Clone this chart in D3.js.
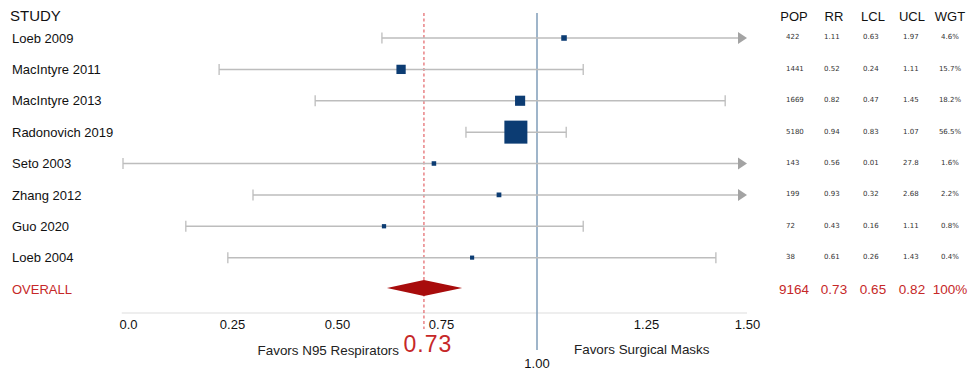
<!DOCTYPE html>
<html>
<head>
<meta charset="utf-8">
<script src="https://cdn.jsdelivr.net/npm/d3@7"></script>
<style>
  html, body { margin: 0; padding: 0; background: #fff; }
  svg { display: block; font-family: "Liberation Sans", Arial, sans-serif; }
</style>
</head>
<body>
<svg id="chart" width="969" height="371"></svg>
<script>
// ---- data ----
const studies = ["Loeb 2009", "MacIntyre 2011", "MacIntyre 2013", "Radonovich 2019",
                 "Seto 2003", "Zhang 2012", "Guo 2020", "Loeb 2004"];
const popText = ["422", "1441", "1669", "5180", "143", "199", "72", "38"];
const rrText  = ["1.11", "0.52", "0.82", "0.94", "0.56", "0.93", "0.43", "0.61"];
const lclText = ["0.63", "0.24", "0.47", "0.83", "0.01", "0.32", "0.16", "0.26"];
const uclText = ["1.97", "1.11", "1.45", "1.07", "27.8", "2.68", "1.11", "1.43"];
const weights = [4.6, 15.7, 18.2, 56.5, 1.6, 2.2, 0.8, 0.4];
const wgtText = ["4.6%", "15.7%", "18.2%", "56.5%", "1.6%", "2.2%", "0.8%", "0.4%"];
// positions as drawn in the picture
const plotPoint = [1.062, 0.654, 0.956, 0.945, 0.733, 0.901, 0.613, 0.831];
const plotLow   = [0.608, 0.219, 0.448, 0.815, -0.012, 0.300, 0.139, 0.240];
const plotHigh  = [1.5, 1.106, 1.446, 1.067, 1.5, 1.5, 1.106, 1.423];
const arrowRight = [true, false, false, false, true, true, false, false];
const overallLabel = "OVERALL";
const overallText = ["9164", "0.73", "0.65", "0.82", "100%"];
const overallPlot = [0.620, 0.709, 0.805]; // low, mid, high as drawn
const summaryLineValue = 0.709;  // dashed line as drawn
const summaryLabel = "0.73";
const nullValue = 1.0;
const nullLabel = "1.00";
const tickValues = [0, 0.25, 0.5, 0.75, 1.25, 1.5];
const tickLabels = ["0.0", "0.25", "0.50", "0.75", "1.25", "1.50"];
const headers = ["POP", "RR", "LCL", "UCL", "WGT"];
const leftLabel = "Favors N95 Respirators";
const rightLabel = "Favors Surgical Masks";
const studyHeader = "STUDY";

// ---- layout ----
const svg = d3.select("#chart");
const x = d3.scaleLinear()
  .domain([0, 0.25, 0.5, 0.75, 1.0, 1.25, 1.5])
  .range([128, 232, 337, 441, 537, 646, 747]);
const rows = studies.concat([overallLabel]);
const y = d3.scalePoint().domain(rows).range([38, 289]);
const size = d3.scaleLinear().domain([0, 56.5]).range([4, 23]);
const axisY = 313;

const red = "#c62828";
const gray = "#bdbdbd";

// headers
svg.append("text").attr("x", 10).attr("y", 21).attr("font-size", 15).attr("fill", "#111").text(studyHeader);

const colCenter = [794, 834, 873, 912, 950];
const colLeft = [786, 824, 863, 903];
svg.selectAll("text.hdr").data(headers).enter().append("text")
  .attr("class", "hdr")
  .attr("x", (d, i) => colCenter[i]).attr("y", 21)
  .attr("text-anchor", "middle").attr("font-size", 13).attr("fill", "#111")
  .text(d => d);

// study labels
svg.selectAll("text.study").data(studies).enter().append("text")
  .attr("class", "study")
  .attr("x", 12).attr("y", d => y(d)).attr("dy", "0.36em")
  .attr("font-size", 13).attr("fill", "#111").text(d => d);

svg.append("text").attr("x", 12).attr("y", y(overallLabel)).attr("dy", "0.36em")
  .attr("font-size", 13).attr("fill", red).text(overallLabel);

// table values
const tableCols = [popText, rrText, lclText, uclText];
tableCols.forEach((col, ci) => {
  svg.selectAll("text.col" + ci).data(col).enter().append("text")
    .attr("class", "col" + ci)
    .attr("x", colLeft[ci]).attr("y", (d, i) => y(studies[i]) - 1).attr("dy", "0.35em")
    .attr("font-family", "DejaVu Sans, sans-serif")
    .attr("font-size", 7).attr("fill", "#333").text(d => d);
});
svg.selectAll("text.wgt").data(wgtText).enter().append("text")
  .attr("class", "wgt")
  .attr("x", colCenter[4]).attr("y", (d, i) => y(studies[i]) - 1).attr("dy", "0.35em")
  .attr("text-anchor", "middle")
  .attr("font-family", "DejaVu Sans, sans-serif")
  .attr("font-size", 7).attr("fill", "#333").text(d => d);

svg.selectAll("text.ovr").data(overallText).enter().append("text")
  .attr("class", "ovr")
  .attr("x", (d, i) => colCenter[i]).attr("y", y(overallLabel)).attr("dy", "0.36em")
  .attr("text-anchor", "middle").attr("font-size", 13.5).attr("fill", red).text(d => d);

// axis
svg.append("line")
  .attr("x1", x(-0.015)).attr("x2", x(1.5))
  .attr("y1", axisY).attr("y2", axisY)
  .attr("stroke", "#dedede").attr("stroke-width", 1.2);

const axis = d3.axisBottom(x).tickValues(tickValues)
  .tickFormat((d, i) => tickLabels[i]).tickSize(0).tickPadding(7);
const ag = svg.append("g").attr("transform", `translate(0,${axisY})`).call(axis);
ag.select(".domain").remove();
ag.selectAll("text").attr("font-size", 13).attr("fill", "#111")
  .attr("font-family", "Liberation Sans, Arial, sans-serif");

// null line (1.00)
svg.append("line")
  .attr("x1", x(nullValue)).attr("x2", x(nullValue))
  .attr("y1", 13).attr("y2", 350)
  .attr("stroke", "#7f9cb8").attr("stroke-width", 1.5);
svg.append("text").attr("x", x(nullValue)).attr("y", 368)
  .attr("text-anchor", "middle").attr("font-size", 13).attr("fill", "#111").text(nullLabel);

// summary dashed line
svg.append("line")
  .attr("x1", x(summaryLineValue)).attr("x2", x(summaryLineValue))
  .attr("y1", 13).attr("y2", 329)
  .attr("stroke", "#e0555a").attr("stroke-width", 1.1)
  .attr("stroke-dasharray", "3,2.5");

// whiskers
const rowsData = studies.map((s, i) => ({
  s, lo: plotLow[i], hi: plotHigh[i], pt: plotPoint[i], arrow: arrowRight[i], w: weights[i]
}));
const arrowLen = 9, arrowHalf = 6, capHalf = 5.5;

const wg = svg.append("g");
wg.selectAll("line.ci").data(rowsData).enter().append("line")
  .attr("class", "ci")
  .attr("x1", d => x(d.lo)).attr("x2", d => d.arrow ? x(d.hi) - arrowLen : x(d.hi))
  .attr("y1", d => y(d.s)).attr("y2", d => y(d.s))
  .attr("stroke", gray).attr("stroke-width", 1.5);
wg.selectAll("line.capL").data(rowsData).enter().append("line")
  .attr("class", "capL")
  .attr("x1", d => x(d.lo)).attr("x2", d => x(d.lo))
  .attr("y1", d => y(d.s) - capHalf).attr("y2", d => y(d.s) + capHalf)
  .attr("stroke", gray).attr("stroke-width", 1.3);
wg.selectAll("line.capR").data(rowsData.filter(d => !d.arrow)).enter().append("line")
  .attr("class", "capR")
  .attr("x1", d => x(d.hi)).attr("x2", d => x(d.hi))
  .attr("y1", d => y(d.s) - capHalf).attr("y2", d => y(d.s) + capHalf)
  .attr("stroke", gray).attr("stroke-width", 1.3);
wg.selectAll("path.arrow").data(rowsData.filter(d => d.arrow)).enter().append("path")
  .attr("class", "arrow")
  .attr("d", d => {
    const tx = x(d.hi), cy = y(d.s);
    return `M${tx},${cy}L${tx - arrowLen},${cy - arrowHalf}L${tx - arrowLen},${cy + arrowHalf}Z`;
  })
  .attr("fill", "#a3a3a3");

// squares
wg.selectAll("rect.pt").data(rowsData).enter().append("rect")
  .attr("class", "pt")
  .attr("x", d => x(d.pt) - size(d.w) / 2)
  .attr("y", d => y(d.s) - size(d.w) / 2)
  .attr("width", d => size(d.w)).attr("height", d => size(d.w))
  .attr("fill", "#0c3c73");

// overall diamond
const oy = y(overallLabel) - 1;
svg.append("path")
  .attr("d", `M${x(overallPlot[0])},${oy}L${x(overallPlot[1])},${oy - 8}L${x(overallPlot[2])},${oy}L${x(overallPlot[1])},${oy + 8}Z`)
  .attr("fill", "#a80c0c");

// bottom labels
svg.append("text").attr("x", 399).attr("y", 355)
  .attr("text-anchor", "end").attr("font-size", 13.4).attr("fill", "#222").text(leftLabel);
svg.append("text").attr("x", x(summaryLineValue) + 4).attr("y", 352)
  .attr("text-anchor", "middle").attr("font-size", 23).attr("letter-spacing", 1)
  .attr("fill", red).text(summaryLabel);
svg.append("text").attr("x", 574).attr("y", 354)
  .attr("font-size", 13.4).attr("fill", "#222").text(rightLabel);
</script>
</body>
</html>
